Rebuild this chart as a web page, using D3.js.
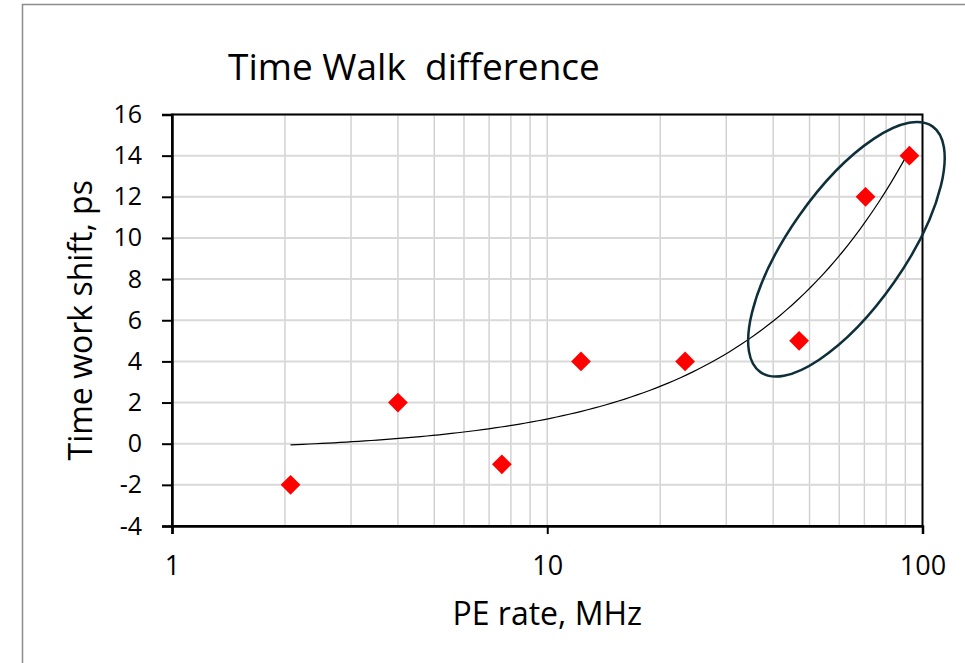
<!DOCTYPE html>
<html lang="en">
<head>
    <meta charset="UTF-8">
    <title>Time Walk difference</title>
    <script src="https://d3js.org/d3.v7.min.js"></script>
    <style>
        body { margin: 0; background: #fff; }
        text { font-family: "Open Sans", sans-serif; fill: #000; }
    </style>
</head>
<body>

    <script>
        // Data points (PE rate in MHz, time walk shift in ps)
        const peRate = [2.07, 4.0, 7.57, 12.3, 23.3, 46.9, 70.5, 92.3];
        const shift = [-2, 2, -1, 4, 4, 5, 12, 14];
        const yTicks = [-4, -2, 0, 2, 4, 6, 8, 10, 12, 14, 16];
        const xTicks = [1, 10, 100];

        const W = 965, H = 663;
        const margin = { top: 114.5, right: 42.5, bottom: 137, left: 172 };
        const width = W - margin.left - margin.right;
        const height = H - margin.top - margin.bottom;

        const root = d3.select('body')
            .append('svg')
            .attr('width', W)
            .attr('height', H);

        // outer chart border (only top and left visible)
        root.append('path')
            .attr('d', 'M22.5,' + H + 'V4.5H' + W)
            .attr('fill', 'none')
            .attr('stroke', '#8c8c8c')
            .attr('stroke-width', 1.5);

        const svg = root.append('g')
            .attr('transform', 'translate(' + margin.left + ',' + margin.top + ')');

        const xScale = d3.scaleLog()
            .domain([1, 100])
            .range([0, width]);

        const yScale = d3.scaleLinear()
            .domain([-4, 16])
            .range([height, 0]);

        // minor vertical gridlines
        const minor = [];
        for (let d = 1; d < 100; d *= 10) {
            for (let k = 2; k <= 10; k++) minor.push(d * k);
        }
        svg.append('g').selectAll('line')
            .data(minor.filter(v => v < 100))
            .enter().append('line')
            .attr('x1', d => xScale(d)).attr('x2', d => xScale(d))
            .attr('y1', 0).attr('y2', height)
            .attr('stroke', '#cfcfcf')
            .attr('stroke-width', 1.4);

        // horizontal gridlines
        svg.append('g').selectAll('line')
            .data(yTicks)
            .enter().append('line')
            .attr('x1', 0).attr('x2', width)
            .attr('y1', d => yScale(d)).attr('y2', d => yScale(d))
            .attr('stroke', '#d9d9d9')
            .attr('stroke-width', 2);

        // plot frame
        svg.append('rect')
            .attr('width', width).attr('height', height)
            .attr('fill', 'none')
            .attr('stroke', '#000')
            .attr('stroke-width', 2);

        // y axis
        const yAxis = svg.append('g')
            .call(d3.axisLeft(yScale).tickValues(yTicks).tickSize(10).tickPadding(20).tickFormat(d => String(d)));
        yAxis.select('.domain').attr('stroke-width', 2.5);
        yAxis.selectAll('.tick line').attr('stroke-width', 2);
        yAxis.selectAll('text').style('font-size', '25px').attr('fill', '#000');

        // x axis
        const xAxis = svg.append('g')
            .attr('transform', 'translate(0,' + height + ')')
            .call(d3.axisBottom(xScale).tickValues(xTicks).tickSize(8).tickPadding(22).tickFormat(d => String(d)));
        xAxis.select('.domain').attr('stroke-width', 2.5);
        xAxis.selectAll('.tick line').attr('stroke-width', 2);
        xAxis.selectAll('text').style('font-size', '27px').attr('fill', '#000');

        // linear trendline (least squares fit of the points)
        const mx = d3.mean(peRate), my = d3.mean(shift);
        const b = d3.sum(peRate, (x, i) => (x - mx) * (shift[i] - my)) / d3.sum(peRate, x => (x - mx) * (x - mx));
        const a = my - b * mx;
        const lo = Math.log10(peRate[0]), hi = Math.log10(d3.max(peRate));
        const xs = d3.range(0, 101).map(t => Math.pow(10, lo + t / 100 * (hi - lo)));
        svg.append('path')
            .datum(xs)
            .attr('fill', 'none')
            .attr('stroke', '#000')
            .attr('stroke-width', 1.2)
            .attr('d', d3.line().x(d => xScale(d)).y(d => yScale(a + b * d)));

        // red diamond markers
        svg.selectAll('.pt')
            .data(peRate)
            .enter()
            .append('rect')
            .attr('class', 'pt')
            .attr('x', -7).attr('y', -7)
            .attr('width', 14).attr('height', 14)
            .attr('transform', (d, i) => 'translate(' + xScale(d) + ',' + yScale(shift[i]) + ') rotate(45)')
            .attr('fill', '#ff0000');

        // highlight ellipse around the high rate points
        svg.append('ellipse')
            .attr('transform', 'translate(' + xScale(62.7) + ',' + yScale(9.45) + ') rotate(-55)')
            .attr('rx', 150).attr('ry', 58)
            .attr('fill', 'none')
            .attr('stroke', '#0e2f3a')
            .attr('stroke-width', 2.5);

        // title
        root.append('text')
            .attr('x', 228).attr('y', 80)
            .style('font-size', '37px')
            .style('white-space', 'pre')
            .text('Time Walk  difference');

        // x axis label
        root.append('text')
            .attr('x', margin.left + width / 2).attr('y', 625)
            .style('text-anchor', 'middle')
            .style('font-size', '32px')
            .text('PE rate, MHz');

        // y axis label
        root.append('text')
            .attr('transform', 'translate(92,' + (margin.top + height / 2) + ') rotate(-90)')
            .style('text-anchor', 'middle')
            .style('font-size', '32px')
            .text('Time work shift, ps');
    </script>

</body>
</html>
